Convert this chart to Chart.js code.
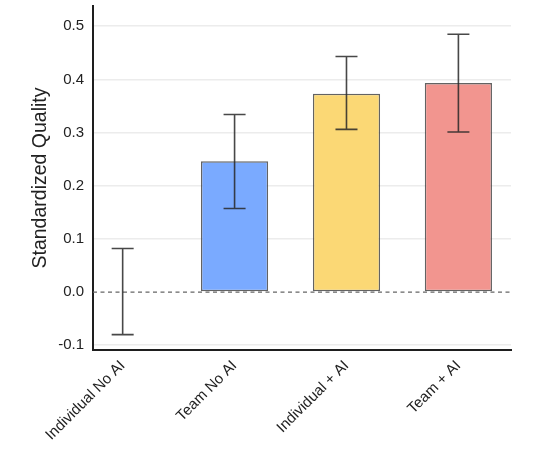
<!DOCTYPE html>
<html>
<head>
<meta charset="utf-8">
<script src="https://cdn.jsdelivr.net/npm/chart.js@4.4.1/dist/chart.umd.min.js"></script>
<style>
  html, body { margin: 0; padding: 0; background: #ffffff; }
  #wrap { position: relative; width: 539px; height: 460px; }
</style>
</head>
<body>
<div id="wrap"><canvas id="c"></canvas></div>
<script>
// ---- data ----
const categories = ["Individual No AI", "Team No AI", "Individual + AI", "Team + AI"];
const means      = [0.0, 0.246, 0.373, 0.393];
const errLow     = [-0.080, 0.157, 0.306, 0.301];
const errHigh    = [0.082, 0.334, 0.443, 0.485];
const barColors  = ["#9e9e9e", "#7aaaff", "#fbd875", "#f2958f"];
const yTicks     = [-0.1, 0.0, 0.1, 0.2, 0.3, 0.4, 0.5];

const FONT = "'Liberation Sans', Arial, Helvetica, sans-serif";

const positions = categories.map((_, i) => i + 1);

const errorBarPlugin = {
  id: 'errorBars',
  beforeDatasetsDraw(chart) {
    const { ctx, chartArea, scales: { y } } = chart;
    const y0 = y.getPixelForValue(0);
    ctx.save();
    ctx.strokeStyle = '#666666';
    ctx.lineWidth = 1.2;
    ctx.setLineDash([4, 3.5]);
    ctx.beginPath();
    ctx.moveTo(chartArea.left, y0);
    ctx.lineTo(chartArea.right, y0);
    ctx.stroke();
    ctx.restore();
  },
  afterDatasetsDraw(chart) {
    const { ctx, scales: { x, y } } = chart;
    ctx.save();
    ctx.strokeStyle = 'rgba(40,40,40,0.85)';
    ctx.lineWidth = 1.6;
    const cap = 11;
    positions.forEach((p, i) => {
      const px = x.getPixelForValue(p);
      const lo = y.getPixelForValue(errLow[i]);
      const hi = y.getPixelForValue(errHigh[i]);
      ctx.beginPath();
      ctx.moveTo(px, lo); ctx.lineTo(px, hi);
      ctx.moveTo(px - cap, lo); ctx.lineTo(px + cap, lo);
      ctx.moveTo(px - cap, hi); ctx.lineTo(px + cap, hi);
      ctx.stroke();
    });
    ctx.restore();
  }
};

new Chart(document.getElementById('c'), {
  type: 'bar',
  data: {
    datasets: [{
      data: positions.map((p, i) => ({ x: p, y: means[i] })),
      backgroundColor: barColors,
      borderColor: 'rgba(60,60,60,0.8)',
      borderWidth: 1.4,
      borderSkipped: false,
      barPercentage: 0.6,
      categoryPercentage: 1.0
    }]
  },
  options: {
    responsive: true,
    maintainAspectRatio: false,
    animation: false,
    devicePixelRatio: 1,
    layout: { padding: { left: 22, right: 28, top: 6, bottom: 0 } },
    plugins: { legend: { display: false }, tooltip: { enabled: false } },
    scales: {
      x: {
        type: 'linear',
        offset: false,
        min: 0.735,
        max: 4.47,
        afterBuildTicks(scale) { scale.ticks = positions.map(v => ({ value: v })); },
        afterFit(scale) { scale.height = 110; scale.paddingLeft = 0; scale.paddingRight = 0; },
        grid: { display: false, drawTicks: false, offset: false },
        border: { display: true, color: '#1e1e1e', width: 2 },
        ticks: {
          autoSkip: false,
          minRotation: 45,
          maxRotation: 45,
          padding: 7,
          color: '#222',
          font: { family: FONT, size: 15 },
          callback: (v) => categories[v - 1]
        }
      },
      y: {
        min: -0.109,
        max: 0.538,
        afterBuildTicks(scale) { scale.ticks = yTicks.map(v => ({ value: v })); },
        afterFit(scale) { scale.width = 71; scale.paddingTop = 0; scale.paddingBottom = 0; },
        grid: {
          drawTicks: false,
          color: (c) => (c.tick && Math.abs(c.tick.value) < 1e-9) ? 'rgba(0,0,0,0)' : '#ececec',
          lineWidth: 1.6
        },
        border: { display: true, color: '#1e1e1e', width: 2 },
        ticks: {
          padding: 9,
          color: '#222',
          font: { family: FONT, size: 15 },
          callback: (v) => Number(v).toFixed(1)
        },
        title: {
          display: true,
          text: 'Standardized Quality',
          color: '#222',
          font: { family: FONT, size: 19.5 },
          padding: { top: 7, bottom: 0 }
        }
      }
    }
  },
  plugins: [errorBarPlugin]
});
</script>
</body>
</html>
